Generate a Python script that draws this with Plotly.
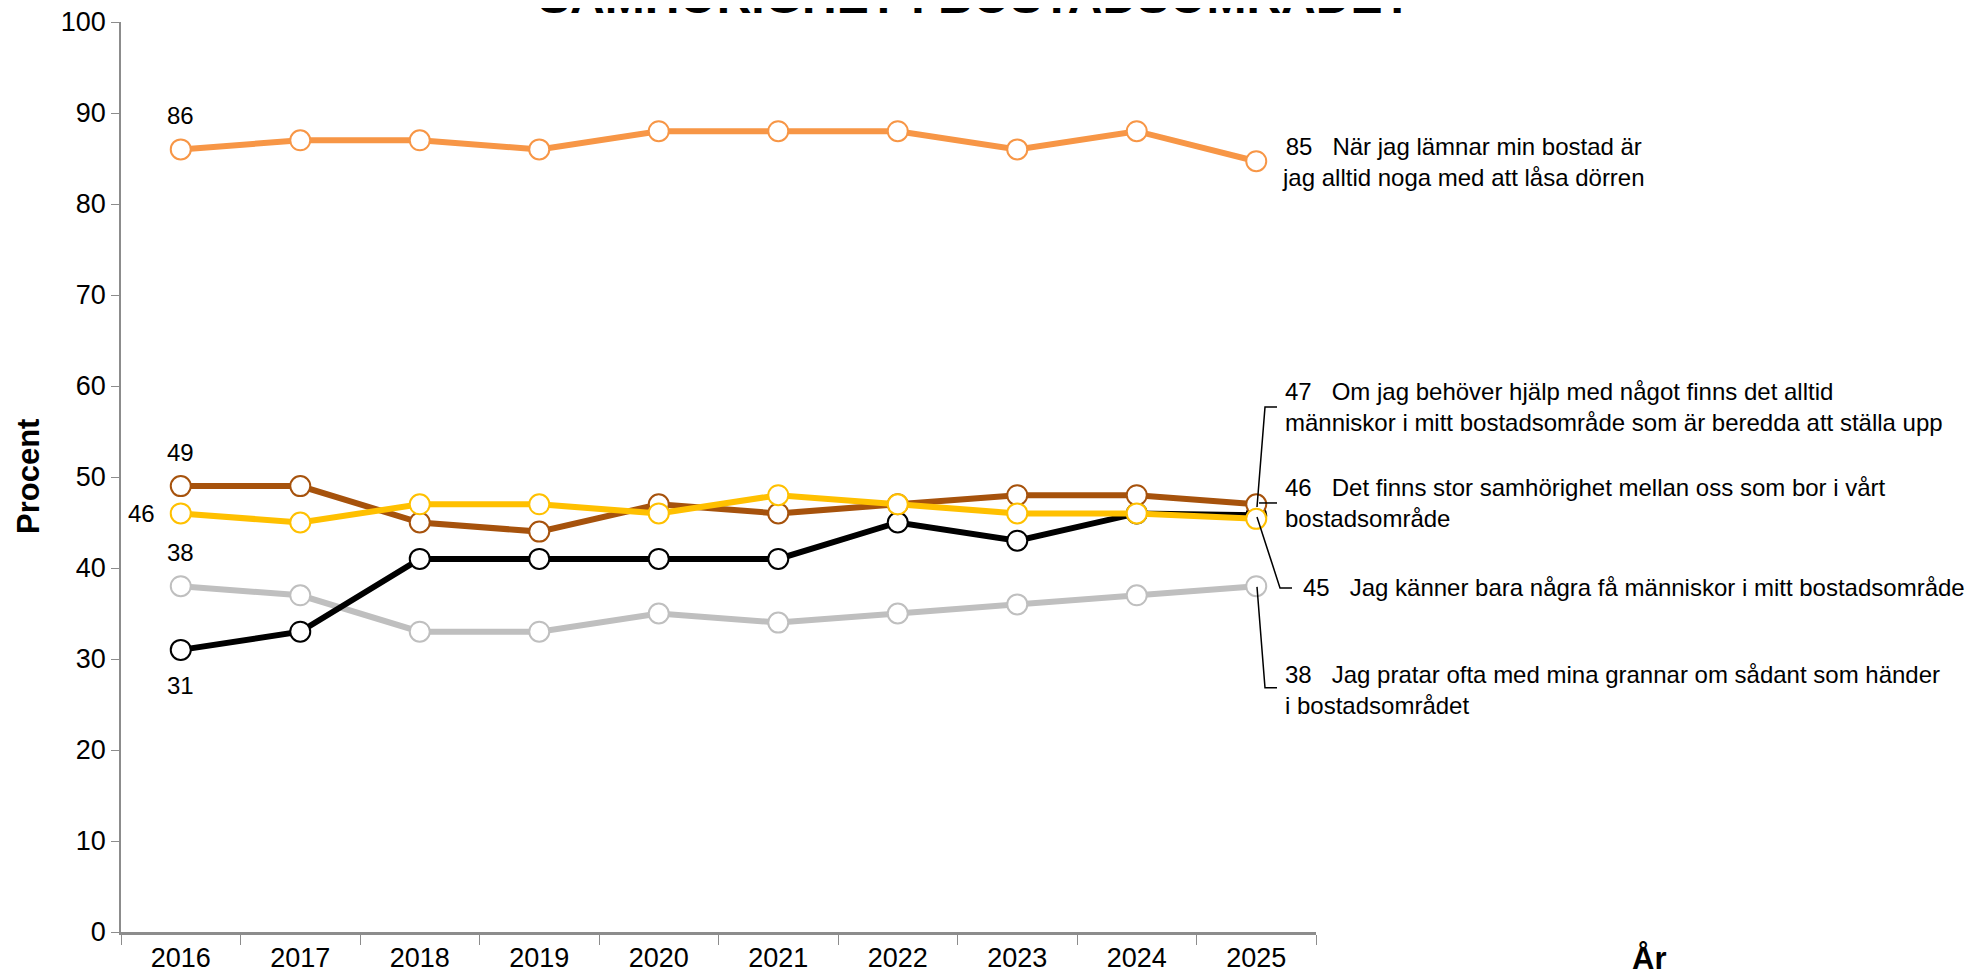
import plotly.graph_objects as go

years = ["2016", "2017", "2018", "2019", "2020", "2021", "2022", "2023", "2024", "2025"]

las_dorren = [86, 87, 87, 86, 88, 88, 88, 86, 88, 84.7]
hjalp = [49, 49, 45, 44, 47, 46, 47, 48, 48, 47]
samhorighet = [46, 45, 47, 47, 46, 48, 47, 46, 46, 45.4]
kanner_fa = [31, 33, 41, 41, 41, 41, 45, 43, 46, 45.8]
pratar = [38, 37, 33, 33, 35, 34, 35, 36, 37, 38]

names = [
    "Jag pratar ofta med mina grannar om sådant som händer<br>i bostadsområdet",
    "Jag känner bara några få människor i mitt bostadsområde",
    "Om jag behöver hjälp med något finns det alltid<br>människor i mitt bostadsområde som är beredda att ställa upp",
    "Det finns stor samhörighet mellan oss som bor i vårt<br>bostadsområde",
    "När jag lämnar min bostad är<br>jag alltid noga med att låsa dörren",
]
end_labels = [38, 45, 47, 46, 85]

series = [pratar, kanner_fa, hjalp, samhorighet, las_dorren]
colors = ["#BFBFBF", "#000000", "#A6520C", "#FFC000", "#F79646"]

FONT = "Arial, Liberation Sans, sans-serif"

# plot area in page pixels (used for placing text / leader lines)
L, R, T, B = 121, 1316, 21.5, 932.5
PAGE_PAD = 8  # browser body margin


def px(x):
    return (x - L) / (R - L)


def py(y):
    return (B - y) / (B - T)


fig = go.Figure()

for vals, col, name in zip(series, colors, names):
    fig.add_trace(
        go.Scatter(
            x=years,
            y=vals,
            mode="lines+markers",
            line=dict(color=col, width=6),
            marker=dict(size=20, color="white", line=dict(color=col, width=2)),
            name=name,
            showlegend=False,
        )
    )

# start labels (first year); x given as category index
start_offsets = [(0, 34, "center"), (0, -36, "center"), (0, 34, "center"), (-24, 0, "right"), (0, 34, "center")]
for vals, (xs, ys, xa) in zip(series, start_offsets):
    fig.add_annotation(
        x=0, y=vals[0], xref="x", yref="y",
        text=f"{vals[0]:.0f}", showarrow=False,
        xshift=xs, yshift=ys, xanchor=xa, yanchor="middle",
        font=dict(size=24, color="black", family=FONT),
    )

# end labels: (x px, y px, xanchor, align)
end_pos = [
    (1283, 690, "left", "left"),
    (1301, 588, "left", "left"),
    (1283, 407, "left", "left"),
    (1283, 503, "left", "left"),
    (1463, 162, "center", "center"),
]
for name, lab, (x, y, xa, al) in zip(names, end_labels, end_pos):
    fig.add_annotation(
        x=px(x), y=py(y), xref="paper", yref="paper",
        text=f"{lab}   {name}", showarrow=False,
        xanchor=xa, yanchor="middle", align=al,
        font=dict(size=24, color="black", family=FONT),
    )

# leader lines
leaders = [
    [(1257, 587), (1265, 688), (1277, 688)],
    [(1257, 517), (1280, 588), (1292, 588)],
    [(1257, 507), (1265, 407), (1277, 407)],
    [(1259, 503), (1277, 503)],
]
for pts in leaders:
    path = "M " + " L ".join(f"{px(a)},{py(b)}" for a, b in pts)
    fig.add_shape(type="path", path=path, xref="paper", yref="paper",
                  line=dict(color="black", width=1.5))

fig.add_annotation(
    x=px(975), y=1, xref="paper", yref="paper",
    text="<b>SAMHÖRIGHET I BOSTADSOMRÅDET</b>", showarrow=False,
    xanchor="center", yanchor="bottom", yshift=-3,
    font=dict(size=48, color="black", family=FONT),
)
fig.add_annotation(
    x=px(28), y=py(477), xref="paper", yref="paper",
    text="<b>Procent</b>", showarrow=False, textangle=-90,
    xanchor="center", yanchor="middle",
    font=dict(size=31, color="black", family=FONT),
)
fig.add_annotation(
    x=px(1649), y=py(959), xref="paper", yref="paper",
    text="<b>År</b>", showarrow=False,
    xanchor="center", yanchor="middle",
    font=dict(size=31, color="black", family=FONT),
)

fig.update_layout(
    width=1984 - PAGE_PAD,
    height=976 - PAGE_PAD,
    margin=dict(l=L - PAGE_PAD, r=1984 - R, t=T - PAGE_PAD, b=976 - B),
    plot_bgcolor="white",
    paper_bgcolor="white",
    font=dict(family=FONT, size=27, color="black"),
    xaxis=dict(
        type="category",
        range=[-0.5, 9.5],
        tickson="boundaries",
        ticks="outside",
        ticklen=10,
        tickcolor="#8C8C8C",
        showline=True,
        linecolor="#8C8C8C",
        linewidth=3,
        showgrid=False,
        zeroline=False,
        automargin=False,
        ticklabeloverflow="allow",
    ),
    yaxis=dict(
        range=[0, 100],
        dtick=10,
        ticks="outside",
        ticklen=8,
        tickcolor="#8C8C8C",
        showline=True,
        linecolor="#8C8C8C",
        linewidth=1.5,
        showgrid=False,
        zeroline=False,
        automargin=False,
        ticklabeloverflow="allow",
    ),
)

fig.write_html("out.html")
